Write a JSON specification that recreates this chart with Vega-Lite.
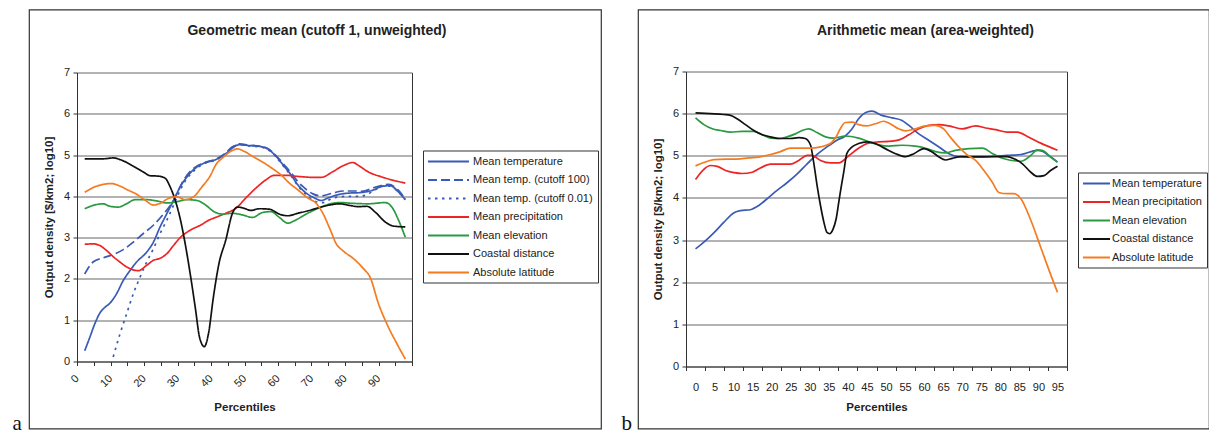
{
"$schema": "https://vega.github.io/schema/vega-lite/v6.json",
"background": "white",
"padding": {"left": 11, "top": 8.5, "right": 0, "bottom": 0},
"autosize": {"type": "pad"},
"bounds": "flush",
"spacing": 37,
"resolve": {"scale": {"color": "independent", "strokeDash": "independent"}, "legend": {"color": "independent", "strokeDash": "independent"}},
"config": {
  "font": "Liberation Sans",
  "view": {"stroke": "#333", "strokeWidth": 1.2},
  "axis": {"labelFont": "Liberation Sans", "labelFontSize": 11, "labelColor": "#222", "titleFont": "Liberation Sans", "titleFontSize": 11.5, "titleFontWeight": "bold", "titleColor": "#222", "domainColor": "#333", "tickColor": "#333", "gridColor": "#666", "labelFlush": false, "labelOverlap": false, "labelBound": false},
  "legend": {"labelFont": "Liberation Sans", "labelFontSize": 11, "labelColor": "#222", "strokeColor": "#333", "padding": 5, "symbolStrokeWidth": 2, "rowPadding": 7.5}
},
"datasets": {
"a": [
{"s":"Mean temperature","p":2.3,"v":0.26},{"s":"Mean temperature","p":3.8,"v":0.58},{"s":"Mean temperature","p":5.3,"v":0.91},{"s":"Mean temperature","p":6.8,"v":1.17},{"s":"Mean temperature","p":8.3,"v":1.31},{"s":"Mean temperature","p":9.8,"v":1.41},{"s":"Mean temperature","p":11.8,"v":1.64},{"s":"Mean temperature","p":13.8,"v":1.96},{"s":"Mean temperature","p":15.8,"v":2.2},{"s":"Mean temperature","p":17.8,"v":2.41},{"s":"Mean temperature","p":20.8,"v":2.65},{"s":"Mean temperature","p":22.8,"v":2.89},{"s":"Mean temperature","p":24.8,"v":3.26},{"s":"Mean temperature","p":26.8,"v":3.58},{"s":"Mean temperature","p":28.8,"v":3.9},{"s":"Mean temperature","p":30.8,"v":4.23},{"s":"Mean temperature","p":32.8,"v":4.47},{"s":"Mean temperature","p":35.3,"v":4.68},{"s":"Mean temperature","p":37.8,"v":4.8},{"s":"Mean temperature","p":41.4,"v":4.89},{"s":"Mean temperature","p":43.9,"v":5.0},{"s":"Mean temperature","p":46.4,"v":5.17},{"s":"Mean temperature","p":48.4,"v":5.25},{"s":"Mean temperature","p":51.4,"v":5.23},{"s":"Mean temperature","p":54.4,"v":5.21},{"s":"Mean temperature","p":56.9,"v":5.15},{"s":"Mean temperature","p":59.4,"v":4.97},{"s":"Mean temperature","p":61.9,"v":4.72},{"s":"Mean temperature","p":63.9,"v":4.52},{"s":"Mean temperature","p":65.9,"v":4.28},{"s":"Mean temperature","p":68.4,"v":4.08},{"s":"Mean temperature","p":70.9,"v":3.96},{"s":"Mean temperature","p":72.9,"v":3.9},{"s":"Mean temperature","p":74.9,"v":3.96},{"s":"Mean temperature","p":77.9,"v":4.04},{"s":"Mean temperature","p":81.4,"v":4.08},{"s":"Mean temperature","p":84.4,"v":4.09},{"s":"Mean temperature","p":88,"v":4.14},{"s":"Mean temperature","p":91,"v":4.24},{"s":"Mean temperature","p":93.5,"v":4.26},{"s":"Mean temperature","p":95.5,"v":4.14},{"s":"Mean temperature","p":98,"v":3.92},
{"s":"Mean temp. (cutoff 100)","p":2.3,"v":2.12},{"s":"Mean temp. (cutoff 100)","p":4.8,"v":2.41},{"s":"Mean temp. (cutoff 100)","p":7.8,"v":2.51},{"s":"Mean temp. (cutoff 100)","p":10.8,"v":2.59},{"s":"Mean temp. (cutoff 100)","p":13.8,"v":2.71},{"s":"Mean temp. (cutoff 100)","p":16.8,"v":2.89},{"s":"Mean temp. (cutoff 100)","p":19.8,"v":3.1},{"s":"Mean temp. (cutoff 100)","p":22.8,"v":3.3},{"s":"Mean temp. (cutoff 100)","p":25.8,"v":3.57},{"s":"Mean temp. (cutoff 100)","p":28.8,"v":3.9},{"s":"Mean temp. (cutoff 100)","p":31.8,"v":4.39},{"s":"Mean temp. (cutoff 100)","p":34.8,"v":4.68},{"s":"Mean temp. (cutoff 100)","p":37.8,"v":4.81},{"s":"Mean temp. (cutoff 100)","p":41.4,"v":4.9},{"s":"Mean temp. (cutoff 100)","p":43.9,"v":5.02},{"s":"Mean temp. (cutoff 100)","p":46.4,"v":5.2},{"s":"Mean temp. (cutoff 100)","p":48.4,"v":5.27},{"s":"Mean temp. (cutoff 100)","p":51.4,"v":5.24},{"s":"Mean temp. (cutoff 100)","p":54.4,"v":5.22},{"s":"Mean temp. (cutoff 100)","p":56.9,"v":5.16},{"s":"Mean temp. (cutoff 100)","p":59.4,"v":4.99},{"s":"Mean temp. (cutoff 100)","p":61.9,"v":4.76},{"s":"Mean temp. (cutoff 100)","p":63.9,"v":4.57},{"s":"Mean temp. (cutoff 100)","p":65.9,"v":4.36},{"s":"Mean temp. (cutoff 100)","p":67.4,"v":4.24},{"s":"Mean temp. (cutoff 100)","p":70.4,"v":4.06},{"s":"Mean temp. (cutoff 100)","p":72.9,"v":4.01},{"s":"Mean temp. (cutoff 100)","p":76.4,"v":4.08},{"s":"Mean temp. (cutoff 100)","p":79.4,"v":4.13},{"s":"Mean temp. (cutoff 100)","p":83.4,"v":4.13},{"s":"Mean temp. (cutoff 100)","p":85,"v":4.12},{"s":"Mean temp. (cutoff 100)","p":89,"v":4.22},{"s":"Mean temp. (cutoff 100)","p":93,"v":4.29},{"s":"Mean temp. (cutoff 100)","p":95.5,"v":4.18},{"s":"Mean temp. (cutoff 100)","p":98,"v":3.94},
{"s":"Mean temp. (cutoff 0.01)","p":10.8,"v":0.11},{"s":"Mean temp. (cutoff 0.01)","p":12.8,"v":0.66},{"s":"Mean temp. (cutoff 0.01)","p":14.8,"v":1.15},{"s":"Mean temp. (cutoff 0.01)","p":16.8,"v":1.64},{"s":"Mean temp. (cutoff 0.01)","p":18.8,"v":2.04},{"s":"Mean temp. (cutoff 0.01)","p":20.8,"v":2.41},{"s":"Mean temp. (cutoff 0.01)","p":22.8,"v":2.73},{"s":"Mean temp. (cutoff 0.01)","p":24.8,"v":3.1},{"s":"Mean temp. (cutoff 0.01)","p":26.8,"v":3.42},{"s":"Mean temp. (cutoff 0.01)","p":28.8,"v":3.78},{"s":"Mean temp. (cutoff 0.01)","p":30.8,"v":4.15},{"s":"Mean temp. (cutoff 0.01)","p":32.8,"v":4.43},{"s":"Mean temp. (cutoff 0.01)","p":35.3,"v":4.65},{"s":"Mean temp. (cutoff 0.01)","p":37.8,"v":4.79},{"s":"Mean temp. (cutoff 0.01)","p":41.4,"v":4.88},{"s":"Mean temp. (cutoff 0.01)","p":43.9,"v":5.0},{"s":"Mean temp. (cutoff 0.01)","p":46.4,"v":5.18},{"s":"Mean temp. (cutoff 0.01)","p":48.4,"v":5.26},{"s":"Mean temp. (cutoff 0.01)","p":51.4,"v":5.22},{"s":"Mean temp. (cutoff 0.01)","p":54.4,"v":5.2},{"s":"Mean temp. (cutoff 0.01)","p":56.9,"v":5.14},{"s":"Mean temp. (cutoff 0.01)","p":59.4,"v":4.96},{"s":"Mean temp. (cutoff 0.01)","p":61.9,"v":4.7},{"s":"Mean temp. (cutoff 0.01)","p":63.9,"v":4.5},{"s":"Mean temp. (cutoff 0.01)","p":65.9,"v":4.26},{"s":"Mean temp. (cutoff 0.01)","p":68.4,"v":4.04},{"s":"Mean temp. (cutoff 0.01)","p":71.4,"v":3.87},{"s":"Mean temp. (cutoff 0.01)","p":73.4,"v":3.85},{"s":"Mean temp. (cutoff 0.01)","p":76.4,"v":3.96},{"s":"Mean temp. (cutoff 0.01)","p":80.4,"v":4.0},{"s":"Mean temp. (cutoff 0.01)","p":84.4,"v":4.0},{"s":"Mean temp. (cutoff 0.01)","p":86.5,"v":4.04},{"s":"Mean temp. (cutoff 0.01)","p":89,"v":4.16},{"s":"Mean temp. (cutoff 0.01)","p":92,"v":4.26},{"s":"Mean temp. (cutoff 0.01)","p":94,"v":4.24},{"s":"Mean temp. (cutoff 0.01)","p":96,"v":4.1},{"s":"Mean temp. (cutoff 0.01)","p":98,"v":3.92},
{"s":"Mean precipitation","p":2.3,"v":2.84},{"s":"Mean precipitation","p":4.8,"v":2.85},{"s":"Mean precipitation","p":6.8,"v":2.81},{"s":"Mean precipitation","p":8.8,"v":2.69},{"s":"Mean precipitation","p":10.8,"v":2.54},{"s":"Mean precipitation","p":12.8,"v":2.41},{"s":"Mean precipitation","p":14.8,"v":2.29},{"s":"Mean precipitation","p":16.8,"v":2.22},{"s":"Mean precipitation","p":18.3,"v":2.2},{"s":"Mean precipitation","p":20.8,"v":2.33},{"s":"Mean precipitation","p":22.8,"v":2.45},{"s":"Mean precipitation","p":24.8,"v":2.5},{"s":"Mean precipitation","p":26.8,"v":2.61},{"s":"Mean precipitation","p":28.8,"v":2.81},{"s":"Mean precipitation","p":30.8,"v":3.0},{"s":"Mean precipitation","p":33.8,"v":3.18},{"s":"Mean precipitation","p":36.8,"v":3.3},{"s":"Mean precipitation","p":39.8,"v":3.44},{"s":"Mean precipitation","p":41.4,"v":3.49},{"s":"Mean precipitation","p":44.4,"v":3.59},{"s":"Mean precipitation","p":47.4,"v":3.71},{"s":"Mean precipitation","p":50.4,"v":3.96},{"s":"Mean precipitation","p":53.4,"v":4.2},{"s":"Mean precipitation","p":56.4,"v":4.4},{"s":"Mean precipitation","p":58.9,"v":4.51},{"s":"Mean precipitation","p":62.4,"v":4.51},{"s":"Mean precipitation","p":66.4,"v":4.48},{"s":"Mean precipitation","p":70.4,"v":4.46},{"s":"Mean precipitation","p":72.9,"v":4.46},{"s":"Mean precipitation","p":76.4,"v":4.6},{"s":"Mean precipitation","p":79.4,"v":4.74},{"s":"Mean precipitation","p":82.4,"v":4.82},{"s":"Mean precipitation","p":84,"v":4.75},{"s":"Mean precipitation","p":87,"v":4.59},{"s":"Mean precipitation","p":91,"v":4.47},{"s":"Mean precipitation","p":98,"v":4.32},
{"s":"Mean elevation","p":2.3,"v":3.7},{"s":"Mean elevation","p":4.8,"v":3.78},{"s":"Mean elevation","p":7.8,"v":3.82},{"s":"Mean elevation","p":9.8,"v":3.76},{"s":"Mean elevation","p":12.3,"v":3.74},{"s":"Mean elevation","p":14.8,"v":3.82},{"s":"Mean elevation","p":17.3,"v":3.92},{"s":"Mean elevation","p":20.8,"v":3.92},{"s":"Mean elevation","p":23.8,"v":3.89},{"s":"Mean elevation","p":26.8,"v":3.84},{"s":"Mean elevation","p":29.8,"v":3.87},{"s":"Mean elevation","p":32.8,"v":3.92},{"s":"Mean elevation","p":35.8,"v":3.9},{"s":"Mean elevation","p":38.4,"v":3.79},{"s":"Mean elevation","p":40.9,"v":3.63},{"s":"Mean elevation","p":43.4,"v":3.57},{"s":"Mean elevation","p":46.4,"v":3.59},{"s":"Mean elevation","p":49.4,"v":3.55},{"s":"Mean elevation","p":52.4,"v":3.49},{"s":"Mean elevation","p":55.4,"v":3.61},{"s":"Mean elevation","p":57.9,"v":3.63},{"s":"Mean elevation","p":60.4,"v":3.49},{"s":"Mean elevation","p":62.9,"v":3.35},{"s":"Mean elevation","p":65.4,"v":3.43},{"s":"Mean elevation","p":68.4,"v":3.57},{"s":"Mean elevation","p":71.4,"v":3.69},{"s":"Mean elevation","p":74.4,"v":3.79},{"s":"Mean elevation","p":78.4,"v":3.85},{"s":"Mean elevation","p":82.4,"v":3.83},{"s":"Mean elevation","p":87,"v":3.82},{"s":"Mean elevation","p":92,"v":3.85},{"s":"Mean elevation","p":94,"v":3.74},{"s":"Mean elevation","p":96,"v":3.42},{"s":"Mean elevation","p":98,"v":3.01},
{"s":"Coastal distance","p":2.3,"v":4.91},{"s":"Coastal distance","p":7.8,"v":4.91},{"s":"Coastal distance","p":10.8,"v":4.93},{"s":"Coastal distance","p":13.8,"v":4.86},{"s":"Coastal distance","p":16.8,"v":4.73},{"s":"Coastal distance","p":19.8,"v":4.59},{"s":"Coastal distance","p":21.8,"v":4.5},{"s":"Coastal distance","p":24.3,"v":4.49},{"s":"Coastal distance","p":26.3,"v":4.44},{"s":"Coastal distance","p":27.8,"v":4.23},{"s":"Coastal distance","p":29.3,"v":3.91},{"s":"Coastal distance","p":30.8,"v":3.46},{"s":"Coastal distance","p":32.3,"v":2.85},{"s":"Coastal distance","p":33.8,"v":2.12},{"s":"Coastal distance","p":35.3,"v":1.31},{"s":"Coastal distance","p":36.6,"v":0.58},{"s":"Coastal distance","p":38,"v":0.36},{"s":"Coastal distance","p":39.3,"v":0.7},{"s":"Coastal distance","p":40.7,"v":1.55},{"s":"Coastal distance","p":42.4,"v":2.38},{"s":"Coastal distance","p":44.4,"v":2.94},{"s":"Coastal distance","p":46.4,"v":3.59},{"s":"Coastal distance","p":47.9,"v":3.74},{"s":"Coastal distance","p":49.9,"v":3.71},{"s":"Coastal distance","p":51.9,"v":3.66},{"s":"Coastal distance","p":54.4,"v":3.7},{"s":"Coastal distance","p":57.4,"v":3.69},{"s":"Coastal distance","p":60.4,"v":3.57},{"s":"Coastal distance","p":62.9,"v":3.53},{"s":"Coastal distance","p":65.9,"v":3.59},{"s":"Coastal distance","p":68.9,"v":3.65},{"s":"Coastal distance","p":72.4,"v":3.73},{"s":"Coastal distance","p":75.4,"v":3.79},{"s":"Coastal distance","p":78.4,"v":3.82},{"s":"Coastal distance","p":81.4,"v":3.78},{"s":"Coastal distance","p":84,"v":3.75},{"s":"Coastal distance","p":86.5,"v":3.76},{"s":"Coastal distance","p":89,"v":3.62},{"s":"Coastal distance","p":92,"v":3.38},{"s":"Coastal distance","p":94.5,"v":3.28},{"s":"Coastal distance","p":98,"v":3.26},
{"s":"Absolute latitude","p":2.3,"v":4.1},{"s":"Absolute latitude","p":5.3,"v":4.23},{"s":"Absolute latitude","p":7.8,"v":4.29},{"s":"Absolute latitude","p":10.3,"v":4.31},{"s":"Absolute latitude","p":12.8,"v":4.25},{"s":"Absolute latitude","p":15.3,"v":4.15},{"s":"Absolute latitude","p":17.8,"v":4.05},{"s":"Absolute latitude","p":20.3,"v":3.91},{"s":"Absolute latitude","p":22.8,"v":3.79},{"s":"Absolute latitude","p":24.8,"v":3.83},{"s":"Absolute latitude","p":27.3,"v":3.95},{"s":"Absolute latitude","p":29.8,"v":3.99},{"s":"Absolute latitude","p":32.3,"v":3.92},{"s":"Absolute latitude","p":34.8,"v":3.99},{"s":"Absolute latitude","p":37.3,"v":4.23},{"s":"Absolute latitude","p":39.8,"v":4.5},{"s":"Absolute latitude","p":41.4,"v":4.76},{"s":"Absolute latitude","p":43.4,"v":4.93},{"s":"Absolute latitude","p":45.9,"v":5.09},{"s":"Absolute latitude","p":47.9,"v":5.15},{"s":"Absolute latitude","p":49.9,"v":5.09},{"s":"Absolute latitude","p":52.4,"v":4.97},{"s":"Absolute latitude","p":55.4,"v":4.83},{"s":"Absolute latitude","p":58.4,"v":4.67},{"s":"Absolute latitude","p":60.9,"v":4.52},{"s":"Absolute latitude","p":63.4,"v":4.32},{"s":"Absolute latitude","p":65.9,"v":4.16},{"s":"Absolute latitude","p":68.9,"v":3.96},{"s":"Absolute latitude","p":71.4,"v":3.83},{"s":"Absolute latitude","p":73.4,"v":3.59},{"s":"Absolute latitude","p":75.4,"v":3.23},{"s":"Absolute latitude","p":77.4,"v":2.85},{"s":"Absolute latitude","p":79.4,"v":2.68},{"s":"Absolute latitude","p":82.4,"v":2.5},{"s":"Absolute latitude","p":85.5,"v":2.25},{"s":"Absolute latitude","p":87.5,"v":2.04},{"s":"Absolute latitude","p":90,"v":1.4},{"s":"Absolute latitude","p":92.5,"v":0.91},{"s":"Absolute latitude","p":95.5,"v":0.43},{"s":"Absolute latitude","p":98,"v":0.06}
],
"b": [
{"s":"Mean temperature","p":0,"v":2.79},{"s":"Mean temperature","p":2.2,"v":2.95},{"s":"Mean temperature","p":4.8,"v":3.17},{"s":"Mean temperature","p":7.4,"v":3.42},{"s":"Mean temperature","p":10.1,"v":3.65},{"s":"Mean temperature","p":11.8,"v":3.7},{"s":"Mean temperature","p":14.4,"v":3.72},{"s":"Mean temperature","p":16.6,"v":3.82},{"s":"Mean temperature","p":18.8,"v":3.98},{"s":"Mean temperature","p":21.4,"v":4.18},{"s":"Mean temperature","p":24,"v":4.36},{"s":"Mean temperature","p":26.7,"v":4.57},{"s":"Mean temperature","p":29.3,"v":4.81},{"s":"Mean temperature","p":31.9,"v":5.03},{"s":"Mean temperature","p":34.5,"v":5.21},{"s":"Mean temperature","p":37.1,"v":5.37},{"s":"Mean temperature","p":39.3,"v":5.47},{"s":"Mean temperature","p":41.1,"v":5.64},{"s":"Mean temperature","p":42.8,"v":5.88},{"s":"Mean temperature","p":45,"v":6.04},{"s":"Mean temperature","p":46.3,"v":6.06},{"s":"Mean temperature","p":48.9,"v":5.96},{"s":"Mean temperature","p":51.6,"v":5.9},{"s":"Mean temperature","p":54.2,"v":5.84},{"s":"Mean temperature","p":56,"v":5.72},{"s":"Mean temperature","p":58.6,"v":5.52},{"s":"Mean temperature","p":61.2,"v":5.37},{"s":"Mean temperature","p":63.9,"v":5.21},{"s":"Mean temperature","p":66.5,"v":5.05},{"s":"Mean temperature","p":69.1,"v":4.98},{"s":"Mean temperature","p":71.8,"v":4.97},{"s":"Mean temperature","p":75.3,"v":4.97},{"s":"Mean temperature","p":78.8,"v":4.99},{"s":"Mean temperature","p":81.8,"v":5.01},{"s":"Mean temperature","p":85.4,"v":5.03},{"s":"Mean temperature","p":89.7,"v":5.13},{"s":"Mean temperature","p":91,"v":5.11},{"s":"Mean temperature","p":92.8,"v":5.0},{"s":"Mean temperature","p":95,"v":4.85},
{"s":"Mean precipitation","p":0,"v":4.44},{"s":"Mean precipitation","p":2.2,"v":4.68},{"s":"Mean precipitation","p":3.9,"v":4.77},{"s":"Mean precipitation","p":5.7,"v":4.75},{"s":"Mean precipitation","p":7.9,"v":4.65},{"s":"Mean precipitation","p":10.1,"v":4.6},{"s":"Mean precipitation","p":12.2,"v":4.58},{"s":"Mean precipitation","p":14.9,"v":4.61},{"s":"Mean precipitation","p":17,"v":4.71},{"s":"Mean precipitation","p":19.7,"v":4.8},{"s":"Mean precipitation","p":22.3,"v":4.8},{"s":"Mean precipitation","p":24.9,"v":4.8},{"s":"Mean precipitation","p":27.1,"v":4.89},{"s":"Mean precipitation","p":29.3,"v":5.01},{"s":"Mean precipitation","p":30.6,"v":5.01},{"s":"Mean precipitation","p":32.8,"v":4.89},{"s":"Mean precipitation","p":35.4,"v":4.83},{"s":"Mean precipitation","p":37.6,"v":4.83},{"s":"Mean precipitation","p":40.2,"v":5.0},{"s":"Mean precipitation","p":42.8,"v":5.18},{"s":"Mean precipitation","p":45.4,"v":5.3},{"s":"Mean precipitation","p":48.1,"v":5.33},{"s":"Mean precipitation","p":50.7,"v":5.34},{"s":"Mean precipitation","p":53.8,"v":5.39},{"s":"Mean precipitation","p":56,"v":5.5},{"s":"Mean precipitation","p":58.6,"v":5.64},{"s":"Mean precipitation","p":61.2,"v":5.72},{"s":"Mean precipitation","p":63.9,"v":5.74},{"s":"Mean precipitation","p":66.5,"v":5.71},{"s":"Mean precipitation","p":70,"v":5.64},{"s":"Mean precipitation","p":73.5,"v":5.71},{"s":"Mean precipitation","p":76.1,"v":5.66},{"s":"Mean precipitation","p":78.8,"v":5.62},{"s":"Mean precipitation","p":81.8,"v":5.56},{"s":"Mean precipitation","p":84.5,"v":5.56},{"s":"Mean precipitation","p":87.1,"v":5.46},{"s":"Mean precipitation","p":90.6,"v":5.3},{"s":"Mean precipitation","p":95,"v":5.13},
{"s":"Mean elevation","p":0,"v":5.9},{"s":"Mean elevation","p":2.2,"v":5.74},{"s":"Mean elevation","p":4.4,"v":5.64},{"s":"Mean elevation","p":6.6,"v":5.6},{"s":"Mean elevation","p":9.2,"v":5.56},{"s":"Mean elevation","p":12.2,"v":5.58},{"s":"Mean elevation","p":15.3,"v":5.58},{"s":"Mean elevation","p":17.5,"v":5.5},{"s":"Mean elevation","p":19.7,"v":5.42},{"s":"Mean elevation","p":21.9,"v":5.41},{"s":"Mean elevation","p":24,"v":5.45},{"s":"Mean elevation","p":26.2,"v":5.52},{"s":"Mean elevation","p":28,"v":5.6},{"s":"Mean elevation","p":29.7,"v":5.64},{"s":"Mean elevation","p":31.9,"v":5.55},{"s":"Mean elevation","p":34.1,"v":5.45},{"s":"Mean elevation","p":36.3,"v":5.42},{"s":"Mean elevation","p":39.3,"v":5.47},{"s":"Mean elevation","p":42.8,"v":5.42},{"s":"Mean elevation","p":45.4,"v":5.34},{"s":"Mean elevation","p":48.1,"v":5.26},{"s":"Mean elevation","p":50.7,"v":5.23},{"s":"Mean elevation","p":54.2,"v":5.25},{"s":"Mean elevation","p":57.7,"v":5.23},{"s":"Mean elevation","p":60.4,"v":5.18},{"s":"Mean elevation","p":63,"v":5.1},{"s":"Mean elevation","p":65.6,"v":5.07},{"s":"Mean elevation","p":68.2,"v":5.13},{"s":"Mean elevation","p":71.8,"v":5.17},{"s":"Mean elevation","p":75.3,"v":5.18},{"s":"Mean elevation","p":78,"v":5.05},{"s":"Mean elevation","p":80.5,"v":4.94},{"s":"Mean elevation","p":85.4,"v":4.87},{"s":"Mean elevation","p":88,"v":5.01},{"s":"Mean elevation","p":89.7,"v":5.14},{"s":"Mean elevation","p":91,"v":5.13},{"s":"Mean elevation","p":93.2,"v":4.97},{"s":"Mean elevation","p":95,"v":4.85},
{"s":"Coastal distance","p":0,"v":6.02},{"s":"Coastal distance","p":3.9,"v":6.0},{"s":"Coastal distance","p":7.4,"v":5.98},{"s":"Coastal distance","p":9.2,"v":5.96},{"s":"Coastal distance","p":10.9,"v":5.88},{"s":"Coastal distance","p":13.1,"v":5.74},{"s":"Coastal distance","p":15.3,"v":5.6},{"s":"Coastal distance","p":17.5,"v":5.5},{"s":"Coastal distance","p":19.7,"v":5.45},{"s":"Coastal distance","p":22.3,"v":5.41},{"s":"Coastal distance","p":24.9,"v":5.41},{"s":"Coastal distance","p":27.1,"v":5.43},{"s":"Coastal distance","p":28.8,"v":5.41},{"s":"Coastal distance","p":30.2,"v":5.25},{"s":"Coastal distance","p":31,"v":4.85},{"s":"Coastal distance","p":31.9,"v":4.3},{"s":"Coastal distance","p":32.8,"v":3.82},{"s":"Coastal distance","p":33.7,"v":3.42},{"s":"Coastal distance","p":34.5,"v":3.18},{"s":"Coastal distance","p":35.2,"v":3.15},{"s":"Coastal distance","p":36.1,"v":3.26},{"s":"Coastal distance","p":36.9,"v":3.5},{"s":"Coastal distance","p":37.6,"v":3.9},{"s":"Coastal distance","p":38.3,"v":4.3},{"s":"Coastal distance","p":38.9,"v":4.61},{"s":"Coastal distance","p":39.7,"v":5.05},{"s":"Coastal distance","p":41.1,"v":5.21},{"s":"Coastal distance","p":42.8,"v":5.29},{"s":"Coastal distance","p":45,"v":5.33},{"s":"Coastal distance","p":47.2,"v":5.29},{"s":"Coastal distance","p":49.8,"v":5.17},{"s":"Coastal distance","p":52.5,"v":5.05},{"s":"Coastal distance","p":55.1,"v":4.98},{"s":"Coastal distance","p":57.3,"v":5.05},{"s":"Coastal distance","p":59.9,"v":5.17},{"s":"Coastal distance","p":62.1,"v":5.09},{"s":"Coastal distance","p":63.9,"v":4.97},{"s":"Coastal distance","p":65.6,"v":4.9},{"s":"Coastal distance","p":67.4,"v":4.94},{"s":"Coastal distance","p":69.6,"v":4.98},{"s":"Coastal distance","p":72.7,"v":4.98},{"s":"Coastal distance","p":76.1,"v":4.98},{"s":"Coastal distance","p":79.6,"v":4.98},{"s":"Coastal distance","p":81.8,"v":4.98},{"s":"Coastal distance","p":83.6,"v":4.93},{"s":"Coastal distance","p":85.8,"v":4.81},{"s":"Coastal distance","p":88,"v":4.61},{"s":"Coastal distance","p":89.7,"v":4.51},{"s":"Coastal distance","p":91.5,"v":4.53},{"s":"Coastal distance","p":93.2,"v":4.65},{"s":"Coastal distance","p":95,"v":4.75},
{"s":"Absolute latitude","p":0,"v":4.76},{"s":"Absolute latitude","p":2.2,"v":4.84},{"s":"Absolute latitude","p":4.8,"v":4.91},{"s":"Absolute latitude","p":7.9,"v":4.92},{"s":"Absolute latitude","p":10.9,"v":4.92},{"s":"Absolute latitude","p":14,"v":4.95},{"s":"Absolute latitude","p":16.6,"v":4.97},{"s":"Absolute latitude","p":19.7,"v":5.03},{"s":"Absolute latitude","p":22.3,"v":5.1},{"s":"Absolute latitude","p":24.9,"v":5.18},{"s":"Absolute latitude","p":27.5,"v":5.18},{"s":"Absolute latitude","p":30.2,"v":5.18},{"s":"Absolute latitude","p":32.8,"v":5.21},{"s":"Absolute latitude","p":35.4,"v":5.29},{"s":"Absolute latitude","p":36.7,"v":5.42},{"s":"Absolute latitude","p":38,"v":5.64},{"s":"Absolute latitude","p":39.3,"v":5.79},{"s":"Absolute latitude","p":41.1,"v":5.8},{"s":"Absolute latitude","p":42.8,"v":5.74},{"s":"Absolute latitude","p":45,"v":5.71},{"s":"Absolute latitude","p":47.2,"v":5.76},{"s":"Absolute latitude","p":49.4,"v":5.82},{"s":"Absolute latitude","p":51.1,"v":5.76},{"s":"Absolute latitude","p":53.3,"v":5.64},{"s":"Absolute latitude","p":55.1,"v":5.59},{"s":"Absolute latitude","p":57.7,"v":5.64},{"s":"Absolute latitude","p":60.4,"v":5.71},{"s":"Absolute latitude","p":63,"v":5.72},{"s":"Absolute latitude","p":65.2,"v":5.63},{"s":"Absolute latitude","p":66.9,"v":5.44},{"s":"Absolute latitude","p":69.1,"v":5.21},{"s":"Absolute latitude","p":71.3,"v":5.02},{"s":"Absolute latitude","p":73.5,"v":4.89},{"s":"Absolute latitude","p":75.7,"v":4.65},{"s":"Absolute latitude","p":77.9,"v":4.37},{"s":"Absolute latitude","p":79.6,"v":4.13},{"s":"Absolute latitude","p":81.8,"v":4.1},{"s":"Absolute latitude","p":83.6,"v":4.1},{"s":"Absolute latitude","p":85.4,"v":3.98},{"s":"Absolute latitude","p":88,"v":3.47},{"s":"Absolute latitude","p":90.6,"v":2.83},{"s":"Absolute latitude","p":92.8,"v":2.28},{"s":"Absolute latitude","p":95,"v":1.76}
]
},
"hconcat": [
{
  "width": 572, "height": 419,
  "title": {"text": "Geometric mean (cutoff 1, unweighted)", "fontSize": 14, "fontWeight": "bold", "font": "Liberation Sans", "color": "#222", "anchor": "middle", "frame": "group", "offset": 0, "baseline": "middle", "dy": 35, "dx": 2},
  "data": {"name": "a"},
  "layer": [
    {
      "mark": {"type": "line", "strokeWidth": 1.7, "interpolate": "monotone"},
      "encoding": {
        "x": {"field": "p", "type": "quantitative", "scale": {"domain": [0, 100], "range": [48, 383], "nice": false, "zero": false},
          "axis": {"orient": "bottom", "offset": -67, "values": [0,5,10,15,20,25,30,35,40,45,50,55,60,65,70,75,80,85,90,95,100], "tickSize": 4, "grid": false, "labelExpr": "(datum.value % 10 === 0 && datum.value <= 90) ? datum.label : ''", "labelAngle": -45, "labelAlign": "right", "labelBaseline": "middle", "labelPadding": 11, "title": "Percentiles", "titleY": 46, "titleBaseline": "middle"}},
        "y": {"field": "v", "type": "quantitative", "scale": {"domain": [0, 7], "range": [352, 63], "nice": false},
          "axis": {"orient": "left", "offset": -48, "values": [0,1,2,3,4,5,6,7], "format": "d", "tickSize": 4, "labelPadding": 3.5, "grid": true, "title": "Output density [$/km2; log10]", "titleX": -27.5, "titleBaseline": "middle"}},
        "color": {"field": "s", "type": "nominal",
          "scale": {"domain": ["Mean temperature", "Mean temp. (cutoff 100)", "Mean temp. (cutoff 0.01)", "Mean precipitation", "Mean elevation", "Coastal distance", "Absolute latitude"], "range": ["#3a5bb5", "#3a5bb5", "#3a5bb5", "#ee2424", "#2a9940", "#111111", "#f47b20"]},
          "legend": {"title": null, "orient": "none", "legendX": 394, "legendY": 141, "symbolType": "M-1.2,0H7", "symbolSize": 100, "labelOffset": 33}},
        "strokeDash": {"field": "s", "type": "nominal",
          "scale": {"domain": ["Mean temperature", "Mean temp. (cutoff 100)", "Mean temp. (cutoff 0.01)", "Mean precipitation", "Mean elevation", "Coastal distance", "Absolute latitude"], "range": [[1,0],[9,4],[2.5,4.5],[1,0],[1,0],[1,0],[1,0]]},
          "legend": {"title": null, "orient": "none", "legendX": 394, "legendY": 141, "symbolType": "M-1.2,0H7", "symbolSize": 100, "labelOffset": 33}}
      }
    },
    {
      "mark": {"type": "line", "opacity": 0},
      "encoding": {
        "x": {"field": "p", "type": "quantitative",
          "axis": {"orient": "top", "offset": 0, "domain": false, "ticks": false, "labels": false, "grid": true, "gridColor": "#333", "values": [100], "title": "a", "titleX": -17, "titleY": 420, "titleAlign": "left", "titleBaseline": "alphabetic", "titleAngle": 0, "titleFont": "Liberation Serif", "titleFontSize": 21, "titleFontWeight": "normal", "titleColor": "#111"}},
        "y": {"field": "v", "type": "quantitative",
          "axis": {"orient": "left", "offset": -48, "values": [0,1,2,3,4,5,6,7], "format": "d", "tickSize": 4, "labelPadding": 3.5, "grid": true, "title": "Output density [$/km2; log10]", "titleX": -27.5, "titleBaseline": "middle"}}
      }
    }
  ],
  "resolve": {"axis": {"x": "independent"}}
},
{
  "width": 571, "height": 419,
  "title": {"text": "Arithmetic mean (area-weighted)", "fontSize": 14, "fontWeight": "bold", "font": "Liberation Sans", "color": "#222", "anchor": "middle", "frame": "group", "offset": 0, "baseline": "middle", "dy": 35, "dx": 2},
  "data": {"name": "b"},
  "layer": [
    {
      "mark": {"type": "line", "strokeWidth": 1.7, "interpolate": "monotone"},
      "encoding": {
        "x": {"field": "p", "type": "quantitative", "scale": {"domain": [-2.5, 97.5], "range": [48, 429], "nice": false, "zero": false},
          "axis": {"orient": "bottom", "offset": -62, "values": [-2.5,2.5,7.5,12.5,17.5,22.5,27.5,32.5,37.5,42.5,47.5,52.5,57.5,62.5,67.5,72.5,77.5,82.5,87.5,92.5,97.5], "tickSize": 4, "grid": false, "labelExpr": "datum.value > 95 ? '' : format(datum.value + 2.5, 'd')", "labelOffset": 9.5, "labelAngle": 0, "labelAlign": "center", "labelBaseline": "middle", "labelPadding": 17, "title": "Percentiles", "titleY": 41, "titleBaseline": "middle"}},
        "y": {"field": "v", "type": "quantitative", "scale": {"domain": [0, 7], "range": [357, 62], "nice": false},
          "axis": {"orient": "left", "offset": -48, "values": [0,1,2,3,4,5,6,7], "format": "d", "tickSize": 4, "labelPadding": 3.5, "grid": true, "title": "Output density [$/km2; log10]", "titleX": -28, "titleBaseline": "middle"}},
        "color": {"field": "s", "type": "nominal",
          "scale": {"domain": ["Mean temperature", "Mean precipitation", "Mean elevation", "Coastal distance", "Absolute latitude"], "range": ["#3a5bb5", "#ee2424", "#2a9940", "#111111", "#f47b20"]},
          "legend": {"title": null, "orient": "none", "legendX": 440, "legendY": 163, "symbolType": "M-1.2,0H4.2", "symbolSize": 100, "labelOffset": 17}}
      }
    },
    {
      "mark": {"type": "line", "opacity": 0},
      "encoding": {
        "x": {"field": "p", "type": "quantitative",
          "axis": {"orient": "top", "offset": 0, "domain": false, "ticks": false, "labels": false, "grid": true, "gridColor": "#333", "values": [97.5], "title": "b", "titleX": -17, "titleY": 420, "titleAlign": "left", "titleBaseline": "alphabetic", "titleAngle": 0, "titleFont": "Liberation Serif", "titleFontSize": 21, "titleFontWeight": "normal", "titleColor": "#111"}},
        "y": {"field": "v", "type": "quantitative",
          "axis": {"orient": "left", "offset": -48, "values": [0,1,2,3,4,5,6,7], "format": "d", "tickSize": 4, "labelPadding": 3.5, "grid": true, "title": "Output density [$/km2; log10]", "titleX": -28, "titleBaseline": "middle"}}
      }
    }
  ],
  "resolve": {"axis": {"x": "independent"}}
}
]
}
